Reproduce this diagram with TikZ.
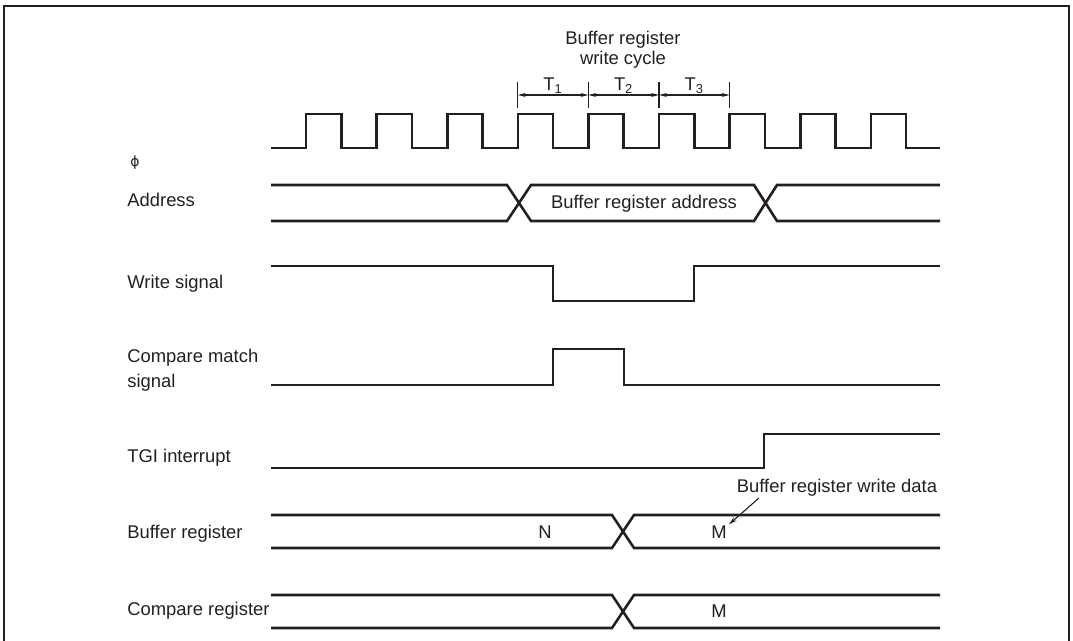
\documentclass[tikz,border=0pt]{standalone}
\usepackage{fontspec}
\setmainfont{Liberation Sans}
\newfontfamily\greekfont{DejaVu Sans}
\usetikzlibrary{positioning,arrows.meta,calc}
\definecolor{waveink}{HTML}{231F20}

\tikzset{
  wave/.style={draw=waveink, line width=1.3pt, line join=miter},
  siglabel/.style={anchor=west, inner sep=0pt, align=left, text=waveink,
                   font=\fontsize{9.2}{12.5}\selectfont},
  buslabel/.style={inner sep=0pt, text=waveink, font=\fontsize{9.2}{10}\selectfont},
  tick/.style={draw=waveink, line width=0.55pt},
  span/.style={draw=waveink, line width=0.55pt, {Stealth[length=4pt,width=2pt]}-{Stealth[length=4pt,width=2pt]}},
  pointer/.style={draw=waveink, line width=0.55pt, -{Stealth[length=4pt,width=2.2pt]}}
}

\begin{document}
\begin{tikzpicture}[x=0.5pt, y=-0.5pt]
  \useasboundingbox (0,0) rectangle (1073,641);
  % outer frame, open at the bottom edge
  \draw[draw=waveink, line width=1.4pt] (4,650) -- (4,6) -- (1069,6) -- (1069,650);

  % signal names on the left
  \node[siglabel] (lphi)  at (130,163) {\greekfont\fontsize{7}{8}\selectfont ϕ};
  \node[siglabel] (laddr) at (127,200) {Address};
  \node[siglabel] (lwr)   at (127,284) {Write signal};
  \node[siglabel] (lcmp)  at (127,370) {Compare match\\signal};
  \node[siglabel] (ltgi)  at (127,458) {TGI interrupt};
  \node[siglabel] (lbuf)  at (127,534) {Buffer register};
  \node[siglabel] (lcreg) at (127,611) {Compare register};

  % clock phi
  \draw[wave] (271,148)
    foreach \i in {0,...,8} {
      -- ({306+70.6*\i},148) -- ({306+70.6*\i},114)
      -- ({341.3+70.6*\i},114) -- ({341.3+70.6*\i},148)
    } -- (940,148);

  % write cycle T1..T3
  \foreach \k/\x in {0/517.8,1/588.4,2/659,3/729.6} {
    \coordinate (t\k) at (\x,95);
    \draw[tick] (\x,82) -- (\x,108);
  }
  \foreach \a/\b/\n in {0/1/1,1/2/2,2/3/3} {
    \draw[span] (t\a) -- (t\b);
    \node[buslabel] (tl\n) at ($(t\a)!0.5!(t\b)+(0,-9)$) {T\textsubscript{\n}};
  }
  \node[buslabel, align=center] (cyc) at (623,50) {Buffer register\\write cycle};

  % address bus
  \draw[wave] (271,185) -- (507,185) -- (531,221) -- (754,221) -- (777,185) -- (940,185);
  \draw[wave] (271,221) -- (507,221) -- (531,185) -- (754,185) -- (777,221) -- (940,221);
  \node[buslabel] (baddr) at (644,204) {Buffer register address};

  % write strobe
  \draw[wave] (271,266) -- (553,266) -- (553,301) -- (694,301) -- (694,266) -- (940,266);

  % compare match pulse
  \draw[wave] (271,385) -- (553,385) -- (553,349) -- (624,349) -- (624,385) -- (940,385);

  % TGI interrupt
  \draw[wave] (271,468) -- (764,468) -- (764,434) -- (940,434);

  % buffer register N -> M
  \draw[wave] (271,515) -- (612,515) -- (634,548) -- (940,548);
  \draw[wave] (271,548) -- (612,548) -- (634,515) -- (940,515);
  \node[buslabel] (bufN) at (545,532) {N};
  \node[buslabel] (bufM) at (719,532) {M};
  \node[buslabel] (wdata) at (837,488) {Buffer register write data};
  \coordinate (wtail) at (759,498);
  \draw[pointer] (wtail) -- ([shift={(1pt,0.5pt)}]bufM.north east);

  % compare register
  \draw[wave] (271,595) -- (612,595) -- (634,628) -- (940,628);
  \draw[wave] (271,628) -- (612,628) -- (634,595) -- (940,595);
  \node[buslabel] (cregM) at (719,611) {M};
\end{tikzpicture}
\end{document}
